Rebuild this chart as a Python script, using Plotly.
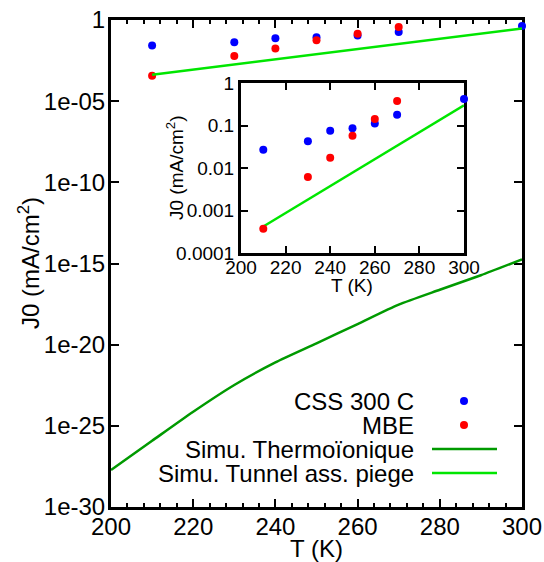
import plotly.graph_objects as go

# ---------------- data ----------------
T_css = [210, 230, 240, 250, 260, 270, 300]
J_css = [0.027, 0.0425, 0.0755, 0.086, 0.112, 0.18, 0.42]

T_mbe = [210, 230, 240, 250, 260, 270]
J_mbe = [3.7e-4, 0.0061, 0.0175, 0.0575, 0.142, 0.377]

T_thermo = [200, 210, 220, 230, 240, 250, 260, 270, 280, 290, 300]
J_thermo = [1.9e-28, 1.2e-26, 7.4e-25, 3.3e-23, 8.1e-22, 1.2e-20,
            1.86e-19, 2.9e-18, 2.4e-17, 1.9e-16, 1.8e-15]

T_tunnel = [210, 300]
J_tunnel = [4.2e-4, 0.30]

names = ["CSS 300 C", "MBE", "Simu. Thermoïonique", "Simu. Tunnel ass. piege"]

main_yticks = [1e-30, 1e-25, 1e-20, 1e-15, 1e-10, 1e-05, 1]
main_ytext = ["1e-30", "1e-25", "1e-20", "1e-15", "1e-10", "1e-05", "1"]
inset_yticks = [1e-4, 1e-3, 1e-2, 1e-1, 1]
inset_ytext = ["0.0001", "0.001", "0.01", "0.1", "1"]
xticks = [200, 220, 240, 260, 280, 300]

BLUE = "#0000ff"
RED = "#ff0000"
DKGREEN = "#009a00"
LTGREEN = "#00e600"
FONT = "Liberation Sans"
FS = 24
FSI = 19

fig = go.Figure()

# main traces
fig.add_trace(go.Scatter(x=T_css, y=J_css, mode="markers", name=names[0],
                         marker=dict(color=BLUE, size=8), cliponaxis=False,
                         xaxis="x", yaxis="y", showlegend=False))
fig.add_trace(go.Scatter(x=T_mbe, y=J_mbe, mode="markers", name=names[1],
                         marker=dict(color=RED, size=8), cliponaxis=False,
                         xaxis="x", yaxis="y", showlegend=False))
fig.add_trace(go.Scatter(x=T_thermo, y=J_thermo, mode="lines", name=names[2],
                         line=dict(color=DKGREEN, width=2.5, shape="spline", smoothing=0.6),
                         xaxis="x", yaxis="y", showlegend=False))
fig.add_trace(go.Scatter(x=T_tunnel, y=J_tunnel, mode="lines", name=names[3],
                         line=dict(color=LTGREEN, width=2.5),
                         xaxis="x", yaxis="y", showlegend=False))

# inset traces
fig.add_trace(go.Scatter(x=T_tunnel, y=J_tunnel, mode="lines",
                         line=dict(color=LTGREEN, width=2.5), cliponaxis=False,
                         xaxis="x2", yaxis="y2", showlegend=False))
fig.add_trace(go.Scatter(x=T_css, y=J_css, mode="markers",
                         marker=dict(color=BLUE, size=8), cliponaxis=False,
                         xaxis="x2", yaxis="y2", showlegend=False))
fig.add_trace(go.Scatter(x=T_mbe, y=J_mbe, mode="markers",
                         marker=dict(color=RED, size=8), cliponaxis=False,
                         xaxis="x2", yaxis="y2", showlegend=False))

W, H = 544, 562
L, R, T, B = 111, 522, 20, 507
pw, ph = R - L, B - T


def px(xp):
    return (xp - L) / pw


def py(yp):
    return (B - yp) / ph


axis_common = dict(showline=True, linewidth=3, linecolor="black", mirror="allticks",
                   ticks="inside", tickcolor="black", tickwidth=2, showgrid=False,
                   zeroline=False, layer="below traces", automargin=False,
                   ticklabeloverflow="allow")

fig.update_layout(
    width=W, height=H,
    margin=dict(l=L, r=W - R, t=T, b=H - B),
    paper_bgcolor="white", plot_bgcolor="white",
    font=dict(family=FONT, size=FS, color="black"),
    xaxis=dict(axis_common, range=[200, 300], domain=[0, 1], tickvals=xticks,
               ticklen=8, tickfont=dict(size=FS), ticklabelstandoff=-4,
               minor=dict(dtick=4, tick0=200, ticks="inside", ticklen=4,
                          tickwidth=2, tickcolor="black")),
    yaxis=dict(axis_common, type="log", range=[-30, 0.0], domain=[0, 1],
               tickvals=main_yticks, ticktext=main_ytext, ticklen=8,
               tickfont=dict(size=FS), ticklabelstandoff=-2),
    xaxis2=dict(axis_common, anchor="y2", range=[200, 300],
                domain=[px(241), px(464)], tickvals=xticks, ticklen=7,
                tickfont=dict(size=FSI), ticklabelstandoff=-5),
    yaxis2=dict(axis_common, anchor="x2", type="log", range=[-4, 0],
                domain=[py(253), py(83)], tickvals=inset_yticks,
                ticktext=inset_ytext, ticklen=7, tickfont=dict(size=FSI)),
)

# axis titles
fig.add_annotation(text="T (K)", xref="paper", yref="paper",
                   x=px(316), y=py(548), showarrow=False, font=dict(size=FS),
                   xanchor="center", yanchor="middle")
fig.add_annotation(text="J0 (mA/cm<sup>2</sup>)", xref="paper", yref="paper",
                   x=px(29), y=py(263), textangle=-90, showarrow=False,
                   font=dict(size=FS), xanchor="center", yanchor="middle")
fig.add_annotation(text="T (K)", xref="paper", yref="paper",
                   x=px(352), y=py(285), showarrow=False, font=dict(size=FSI),
                   xanchor="center", yanchor="middle")
fig.add_annotation(text="J0 (mA/cm<sup>2</sup>)", xref="paper", yref="paper",
                   x=px(175), y=py(168), textangle=-90, showarrow=False,
                   font=dict(size=FSI), xanchor="center", yanchor="middle")

# legend (gnuplot style: text right-aligned, key to the right)
rows = [401, 425, 449, 473]
for i, nm in enumerate(names):
    fig.add_annotation(text=nm, xref="paper", yref="paper", x=px(416), y=py(rows[i]),
                       xanchor="right", yanchor="middle", showarrow=False,
                       font=dict(size=FS))
for i, c in enumerate([BLUE, RED]):
    fig.add_shape(type="circle", xref="paper", yref="paper",
                  x0=px(460), x1=px(468), y0=py(rows[i] + 4), y1=py(rows[i] - 4),
                  fillcolor=c, line=dict(width=0))
for i, c in zip([2, 3], [DKGREEN, LTGREEN]):
    fig.add_shape(type="line", xref="paper", yref="paper",
                  x0=px(432), x1=px(497), y0=py(rows[i]), y1=py(rows[i]),
                  line=dict(color=c, width=2.5))

# remove the default 8px page margin so the figure fills the window exactly
fig.write_html("out.html", config={"displayModeBar": False},
               post_script="document.body.style.margin='0';document.body.style.overflow='hidden';")
